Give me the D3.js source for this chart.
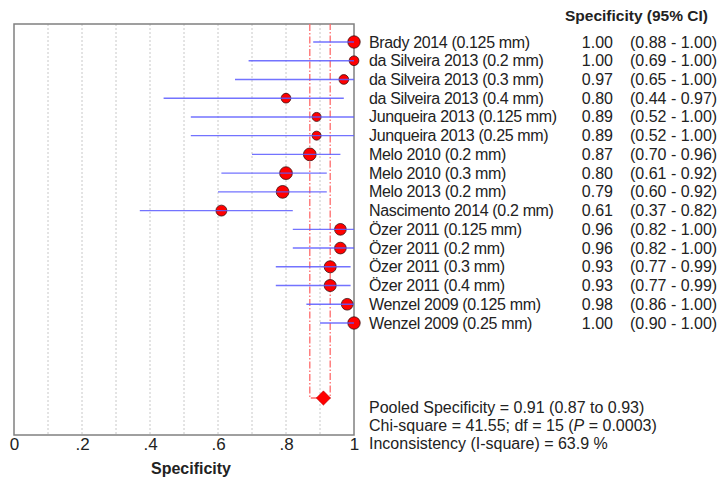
<!DOCTYPE html>
<html>
<head>
<meta charset="utf-8">
<script src="https://cdn.jsdelivr.net/npm/d3@7"></script>
<style>
  body { margin: 0; background: #fff; }
  svg { display: block; font-family: "Liberation Sans", Arial, sans-serif; }
</style>
</head>
<body>
<svg></svg>
<script>
const studies = [
  'Brady 2014 (0.125 mm)', 'da Silveira 2013 (0.2 mm)', 'da Silveira 2013 (0.3 mm)',
  'da Silveira 2013 (0.4 mm)', 'Junqueira 2013 (0.125 mm)', 'Junqueira 2013 (0.25 mm)',
  'Melo 2010 (0.2 mm)', 'Melo 2010 (0.3 mm)', 'Melo 2013 (0.2 mm)',
  'Nascimento 2014 (0.2 mm)', 'Özer 2011 (0.125 mm)', 'Özer 2011 (0.2 mm)',
  'Özer 2011 (0.3 mm)', 'Özer 2011 (0.4 mm)', 'Wenzel 2009 (0.125 mm)', 'Wenzel 2009 (0.25 mm)'
];
const spec = [1.00, 1.00, 0.97, 0.80, 0.89, 0.89, 0.87, 0.80, 0.79, 0.61, 0.96, 0.96, 0.93, 0.93, 0.98, 1.00];
const ciLow = [0.88, 0.69, 0.65, 0.44, 0.52, 0.52, 0.70, 0.61, 0.60, 0.37, 0.82, 0.82, 0.77, 0.77, 0.86, 0.90];
const ciHigh = [1.00, 1.00, 1.00, 0.97, 1.00, 1.00, 0.96, 0.92, 0.92, 0.82, 1.00, 1.00, 0.99, 0.99, 1.00, 1.00];
// study weights (marker size)
const weights = [36, 22, 22, 22, 19, 19, 38, 38, 38, 28, 32, 32, 34, 34, 32, 36];
const pooled = { est: 0.91, lo: 0.87, hi: 0.93 };
const stats = [
  'Pooled Specificity = 0.91 (0.87 to 0.93)',
  'Chi-square = 41.55; df =  15 (P = 0.0003)',
  'Inconsistency (I-square) = 63.9 %'
];
const xTicks = [0, 0.2, 0.4, 0.6, 0.8, 1];
const gridTicks = [0.1, 0.2, 0.3, 0.4, 0.5, 0.6, 0.7, 0.8, 0.9];

const width = 720, height = 481;
const svg = d3.select('svg').attr('width', width).attr('height', height);

const plotL = 14, plotR = 354, plotT = 24, plotB = 435;
const x = d3.scaleLinear().domain([0, 1]).range([plotL, plotR]);
const y = d3.scalePoint().domain(studies).range([42, 323]);
const r = d3.scaleSqrt().domain([0, 36]).range([0, 6.2]);
const pooledY = 398;

// grid
svg.append('g').selectAll('line').data(gridTicks).join('line')
  .attr('x1', d => x(d)).attr('x2', d => x(d))
  .attr('y1', plotT).attr('y2', plotB)
  .attr('stroke', '#c8c8c8').attr('stroke-width', 1)
  .attr('stroke-dasharray', '2,2');

// frame
svg.append('rect')
  .attr('x', plotL).attr('y', plotT)
  .attr('width', plotR - plotL).attr('height', plotB - plotT)
  .attr('fill', 'none').attr('stroke', '#808080').attr('stroke-width', 1.5);

// pooled CI lines
svg.append('path')
  .attr('d', `M${x(pooled.lo)},${plotT} V${pooledY} H${x(pooled.hi)} V${plotT}`)
  .attr('fill', 'none').attr('stroke', '#ff6b6b').attr('stroke-width', 1.3)
  .attr('stroke-dasharray', '7,2,1.5,2');

// markers
svg.append('g').selectAll('circle').data(studies).join('circle')
  .attr('cx', (d, i) => x(spec[i]))
  .attr('cy', d => y(d))
  .attr('r', (d, i) => r(weights[i]))
  .attr('fill', '#ff0000').attr('stroke', '#3a1010').attr('stroke-width', 0.8);

// CI lines over markers
svg.append('g').selectAll('line').data(studies).join('line')
  .attr('x1', (d, i) => x(ciLow[i])).attr('x2', (d, i) => x(ciHigh[i]))
  .attr('y1', d => y(d)).attr('y2', d => y(d))
  .attr('stroke', '#5a5aff').attr('stroke-opacity', 0.85).attr('stroke-width', 1.4);

// pooled diamond
svg.append('path')
  .attr('d', d3.symbol(d3.symbolDiamond2, 130)())
  .attr('transform', `translate(${x(pooled.est)},${pooledY})`)
  .attr('fill', '#ff0000').attr('stroke', '#aa0000').attr('stroke-width', 0.5);

// x axis labels
const xAxis = d3.axisBottom(x).tickValues(xTicks).tickSize(0).tickPadding(3)
  .tickFormat(d => d === 0 ? '0' : d === 1 ? '1' : d3.format('.1f')(d).replace(/^0/, ''));
const gx = svg.append('g').attr('transform', `translate(0,${plotB})`).call(xAxis);
gx.select('.domain').remove();
gx.selectAll('text').attr('font-size', 17).attr('fill', '#222')
  .attr('font-family', '"Liberation Sans", Arial, sans-serif');

svg.append('text').attr('x', 191).attr('y', 474)
  .attr('text-anchor', 'middle').attr('font-size', 16).attr('font-weight', 'bold')
  .attr('fill', '#222').text('Specificity');

// header
svg.append('text').attr('x', 708).attr('y', 21)
  .attr('text-anchor', 'end').attr('font-size', 15.5).attr('font-weight', 'bold')
  .attr('fill', '#222').text('Specificity (95% CI)');

// study rows
const rows = svg.append('g').attr('font-size', 16).attr('fill', '#222');
rows.selectAll('.lab').data(studies).join('text').attr('class', 'lab')
  .attr('x', 369).attr('y', d => y(d) + 5.5)
  .attr('letter-spacing', -0.35).text(d => d);
rows.selectAll('.val').data(studies).join('text').attr('class', 'val')
  .attr('x', 613).attr('y', d => y(d) + 5.5).attr('text-anchor', 'end')
  .text((d, i) => spec[i].toFixed(2));
rows.selectAll('.ci').data(studies).join('text').attr('class', 'ci')
  .attr('x', 630).attr('y', d => y(d) + 5.5)
  .text((d, i) => `(${ciLow[i].toFixed(2)} - ${ciHigh[i].toFixed(2)})`);

// summary stats
const st = svg.append('g').attr('font-size', 16).attr('fill', '#222')
  .style('white-space', 'pre');
stats.forEach((s, i) => {
  const t = st.append('text').attr('x', 369).attr('y', 412.5 + i * 18.2);
  if (s.includes('P = ')) {
    const parts = s.split('P');
    t.append('tspan').text(parts[0]);
    t.append('tspan').attr('font-style', 'italic').text('P');
    t.append('tspan').text(parts[1]);
  } else {
    t.text(s);
  }
});
</script>
</body>
</html>
